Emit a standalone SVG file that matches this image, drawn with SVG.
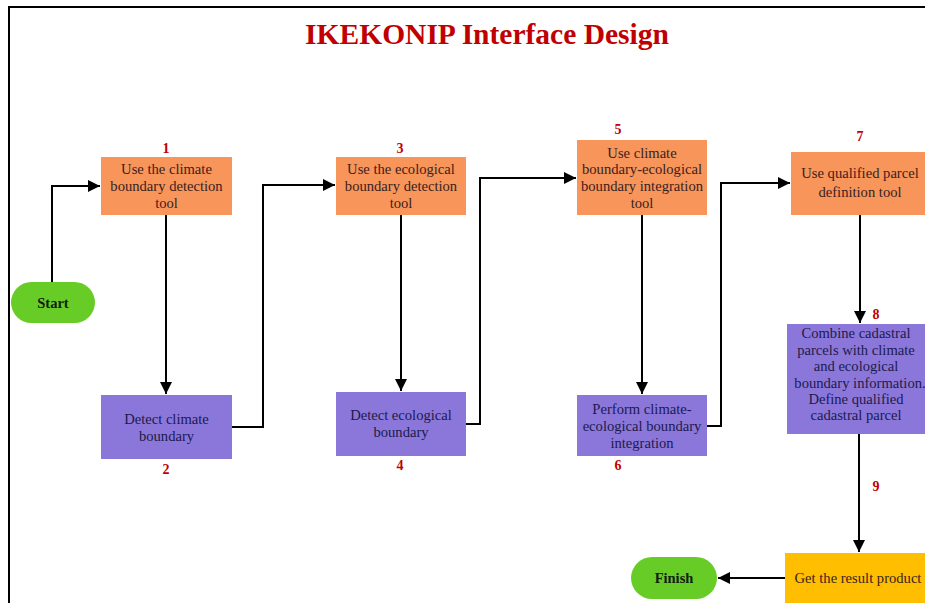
<svg xmlns="http://www.w3.org/2000/svg" width="925" height="603" viewBox="0 0 925 603">
<style>
.t{font-family:"Liberation Serif","Times New Roman",serif;font-size:14.6px;text-anchor:middle}
.o{fill:#3a1e1e}
.p{fill:#1c1a4e}
.n{font-family:"Liberation Serif","Times New Roman",serif;font-size:14px;font-weight:bold;fill:#c00000;text-anchor:middle}
.ob{fill:#f7955a}
.pb{fill:#8b77d9}
.gb{fill:#68cc26}
.c{fill:none;stroke:#000;stroke-width:2}
.b{font-family:"Liberation Serif","Times New Roman",serif;font-size:14.5px;font-weight:bold;fill:#102010;text-anchor:middle}
</style>
<defs>
<marker id="ah" viewBox="0 0 10 10" refX="10" refY="5" markerWidth="6" markerHeight="6" orient="auto" markerUnits="strokeWidth">
<path d="M0,0 L10,5 L0,10 z" fill="#000"/>
</marker>
</defs>
<rect x="0" y="0" width="925" height="603" fill="#fff"/>
<path d="M9,603 V7 H925" fill="none" stroke="#000" stroke-width="2"/>
<text x="487" y="44" font-family="Liberation Serif,Times New Roman,serif" font-size="29.5" font-weight="bold" fill="#c00000" text-anchor="middle">IKEKONIP Interface Design</text>

<g id="connectors">
<path class="c" d="M52,282 V186 H100" marker-end="url(#ah)"/>
<path class="c" d="M166,215 V394" marker-end="url(#ah)"/>
<path class="c" d="M232,427 H263 V185 H335" marker-end="url(#ah)"/>
<path class="c" d="M401,215 V391" marker-end="url(#ah)"/>
<path class="c" d="M466,424 H480 V178 H576" marker-end="url(#ah)"/>
<path class="c" d="M642,215 V394" marker-end="url(#ah)"/>
<path class="c" d="M707,426 H721 V183 H790" marker-end="url(#ah)"/>
<path class="c" d="M860,215 V323" marker-end="url(#ah)"/>
<path class="c" d="M859,434 V552" marker-end="url(#ah)"/>
<path class="c" d="M785,578 H718" marker-end="url(#ah)"/>
</g>

<g id="start">
<rect class="gb" x="11" y="282" width="84" height="41" rx="20.5"/>
<text class="b" x="53" y="308">Start</text>
</g>

<g id="n1">
<rect class="ob" x="101" y="157" width="131" height="58"/>
<text class="n" x="166" y="153">1</text>
<text class="t o" x="166.5" y="174">Use the climate</text>
<text class="t o" x="166.5" y="191">boundary detection</text>
<text class="t o" x="166.5" y="208">tool</text>
</g>

<g id="n2">
<rect class="pb" x="101" y="395" width="131" height="64"/>
<text class="t p" x="166.5" y="424">Detect climate</text>
<text class="t p" x="166.5" y="441">boundary</text>
<text class="n" x="166" y="474">2</text>
</g>

<g id="n3">
<rect class="ob" x="336" y="157" width="130" height="58"/>
<text class="n" x="400" y="153">3</text>
<text class="t o" x="401" y="174">Use the ecological</text>
<text class="t o" x="401" y="191">boundary detection</text>
<text class="t o" x="401" y="208">tool</text>
</g>

<g id="n4">
<rect class="pb" x="336" y="392" width="130" height="64"/>
<text class="t p" x="401" y="420">Detect ecological</text>
<text class="t p" x="401" y="437">boundary</text>
<text class="n" x="400" y="470">4</text>
</g>

<g id="n5">
<rect class="ob" x="577" y="140" width="130" height="75"/>
<text class="n" x="618" y="134">5</text>
<text class="t o" x="642" y="158">Use climate</text>
<text class="t o" x="642" y="174">boundary-ecological</text>
<text class="t o" x="642" y="191">boundary integration</text>
<text class="t o" x="642" y="208">tool</text>
</g>

<g id="n6">
<rect class="pb" x="577" y="395" width="130" height="61"/>
<text class="t p" x="642" y="414">Perform climate-</text>
<text class="t p" x="642" y="431">ecological boundary</text>
<text class="t p" x="642" y="448">integration</text>
<text class="n" x="618" y="470">6</text>
</g>

<g id="n7">
<rect class="ob" x="791" y="152" width="134" height="63"/>
<text class="n" x="860" y="141">7</text>
<text class="t o" x="860" y="178">Use qualified parcel</text>
<text class="t o" x="860" y="197">definition tool</text>
</g>

<g id="n8">
<rect class="pb" x="787" y="324" width="138" height="110"/>
<text class="n" x="876" y="319">8</text>
<text class="t p" x="856" y="338">Combine cadastral</text>
<text class="t p" x="856" y="355">parcels with climate</text>
<text class="t p" x="856" y="371">and ecological</text>
<text class="t p" x="860" y="388">boundary information.</text>
<text class="t p" x="856" y="404">Define qualified</text>
<text class="t p" x="856" y="420">cadastral parcel</text>
</g>

<text class="n" x="876" y="491">9</text>

<g id="n9">
<rect x="785" y="553" width="140" height="50" fill="#ffbf00"/>
<text class="t o" x="858" y="583">Get the result product</text>
</g>

<g id="finish">
<rect class="gb" x="631" y="557" width="86" height="42" rx="21"/>
<text class="b" x="674" y="583">Finish</text>
</g>
</svg>
